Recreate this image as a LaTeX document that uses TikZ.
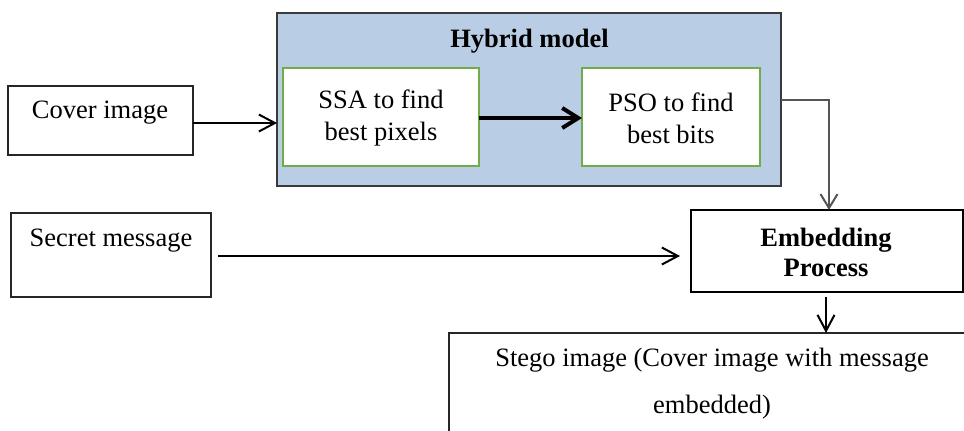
\documentclass[tikz,border=0pt]{standalone}
\usepackage{fontspec}
\setmainfont{Liberation Serif}
\usetikzlibrary{arrows.meta}
\definecolor{hybfill}{HTML}{B9CDE5}
\definecolor{hybdraw}{HTML}{3A3A3A}
\definecolor{greenb}{HTML}{70AD47}
\definecolor{conn}{HTML}{555555}
\begin{document}
\begin{tikzpicture}[x=0.5pt,y=-0.5pt,
  box/.style={draw=black!85,line width=0.6pt,fill=white,inner sep=0pt,outer sep=0pt},
  inbox/.style={draw=greenb,line width=1pt,fill=white,inner sep=0pt,outer sep=0pt},
  txt/.style={font=\fontsize{13.25}{16}\selectfont,align=center,inner sep=0pt},
  arr/.style={line width=1pt,-{Straight Barb[length=8pt,width=8.5pt,line width=1pt]}},
  thickarr/.style={line width=2pt,-{Straight Barb[length=8pt,width=10pt,line width=2pt]}},
  grayarr/.style={draw=conn,line width=1pt,-{Straight Barb[length=7pt,width=8.5pt,line width=1pt]}}]
\useasboundingbox (0,0) rectangle (964,430);
% boxes
\node[box,minimum width=92.5pt,minimum height=34.5pt] (cover) at (100.5,120.5) {};
\node[box,draw=hybdraw,fill=hybfill,minimum width=252pt,minimum height=86.5pt] (hyb) at (529,99.5) {};
\node[inbox,minimum width=98pt,minimum height=49pt] (ssa) at (381,117) {};
\node[inbox,minimum width=89pt,minimum height=49pt] (pso) at (671,117) {};
\node[box,draw=black,line width=1pt,minimum width=136pt,minimum height=41pt] (embed) at (827,251) {};
\node[box,minimum width=100pt,minimum height=42pt] (secret) at (111,255) {};
\node[box,minimum width=270pt,minimum height=60pt,anchor=north west] (stego) at (449,333) {};
% texts
\node[txt] (tcover) at (100,113) {Cover image};
\node[txt,font=\fontsize{13.25}{16}\selectfont\bfseries] (thyb) at (529.5,41) {Hybrid model};
\node[txt] (tssa) at (381,118) {SSA to find\\best pixels};
\node[txt] (tpso) at (671,118) {PSO to find\\best bits};
\node[txt] (tsecret) at (111,241) {Secret message};
\node[txt,font=\fontsize{13.25}{15}\selectfont\bfseries] (tembed) at (826,252) {Embedding\\Process};
\node[txt,font=\fontsize{13.25}{23.5}\selectfont] (tstego) at (712,384) {Stego image (Cover image with message\\embedded)};
% connectors
\draw[arr] ([yshift=-1.25pt]cover.east) -- ([yshift=-1.25pt]cover.east -| hyb.west);
\draw[thickarr] ([yshift=-0.5pt]ssa.east) -- ([yshift=-0.5pt]pso.west);
\draw[grayarr] (hyb.east) -| ([xshift=1pt]embed.north);
\draw[arr,shorten <=3.5pt,shorten >=5.5pt] ([yshift=-0.5pt]secret.east) -- ([yshift=-0.5pt]secret.east -| embed.west);
\draw[arr,shorten <=2.5pt] ([xshift=-0.5pt]embed.south) -- ([xshift=-0.5pt]embed.south |- stego.north);
\end{tikzpicture}
\end{document}
